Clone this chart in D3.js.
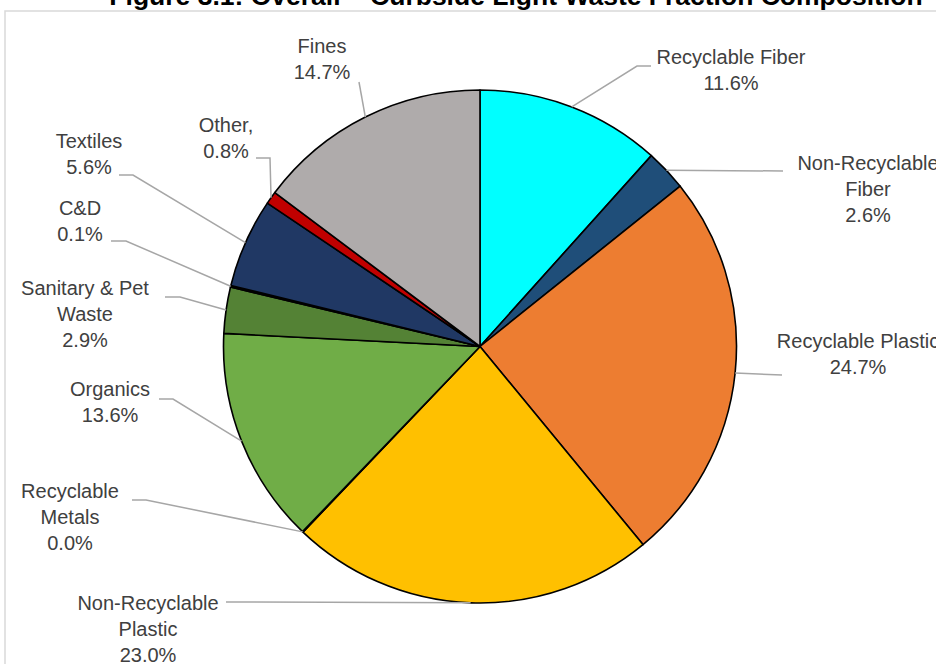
<!DOCTYPE html>
<html>
<head>
<meta charset="utf-8">
<script src="https://cdn.jsdelivr.net/npm/d3@7"></script>
<style>
  html, body { margin: 0; padding: 0; background: #fff; overflow: hidden; }
  svg { display: block; }
</style>
</head>
<body>
<svg id="chart" width="936" height="664"></svg>
<script>
// Composition of curbside light waste, percent by fraction (clockwise from 12 o'clock)
const categories = [
  "Recyclable Fiber", "Non-Recyclable Fiber", "Recyclable Plastic", "Non-Recyclable Plastic",
  "Recyclable Metals", "Organics", "Sanitary & Pet Waste", "C&D", "Textiles", "Other", "Fines"
];
const shares = [11.6, 2.6, 24.7, 23.0, 0.04, 13.6, 2.9, 0.1, 5.6, 0.8, 14.7];
const colors = [
  "#00FFFF", "#1F4E79", "#ED7D31", "#FFC000", "#A5A5A5", "#70AD47",
  "#548235", "#0D0D0D", "#203864", "#C00000", "#AFABAB"
];
// Text lines of each data label (the last line is the formatted share)
const labelNames = [
  ["Recyclable Fiber"], ["Non-Recyclable", "Fiber"], ["Recyclable Plastic"], ["Non-Recyclable", "Plastic"],
  ["Recyclable", "Metals"], ["Organics"], ["Sanitary & Pet", "Waste"], ["C&D"], ["Textiles"], ["Other,"], ["Fines"]
];
const title = "Figure 3.1: Overall \u2013 Curbside Light Waste Fraction Composition";

// Label placement: text centre x, first line centre y, leader start and optional elbow
const labelLayout = [
  { x: 731, y: 57,  lead: [[651, 66], [637, 66]] },
  { x: 868, y: 163, lead: [[783, 171]] },
  { x: 858, y: 341, lead: [[782, 375]] },
  { x: 148, y: 603, lead: [[226, 602]] },
  { x: 70,  y: 491, lead: [[132, 500], [146, 500]] },
  { x: 110, y: 389, lead: [[159, 399], [173, 399]] },
  { x: 85,  y: 288, lead: [[165, 297], [180, 297]] },
  { x: 80,  y: 208, lead: [[111, 241], [126, 241]] },
  { x: 89,  y: 141, lead: [[119, 175], [133, 175]] },
  { x: 226, y: 125, lead: [[256, 158], [270, 158]] },
  { x: 322, y: 46,  lead: [[359, 82]] }
];

const svg = d3.select("#chart");
const cx = 480, cy = 346.5, radius = 256.5;
const lineGap = 26;

// chart area frame
svg.append("rect")
  .attr("x", 5).attr("y", 11)
  .attr("width", 1000).attr("height", 1000)
  .attr("fill", "#fff")
  .attr("stroke", "#D9D9D9").attr("stroke-width", 1.5);

// title (sits above the chart area)
svg.append("text")
  .attr("x", 516).attr("y", 5)
  .attr("text-anchor", "middle")
  .attr("font-family", "Liberation Sans, Arial, sans-serif")
  .attr("font-weight", "bold")
  .attr("font-size", 26.5)
  .attr("fill", "#000")
  .text(title);

const data = categories.map((c, i) => ({ name: c, value: shares[i], color: colors[i], lines: labelNames[i], layout: labelLayout[i] }));

const pie = d3.pie().sort(null).value(d => d.value);
const arcs = pie(data);
const arc = d3.arc().innerRadius(0).outerRadius(radius);

const g = svg.append("g").attr("transform", `translate(${cx},${cy})`);

g.selectAll("path.slice")
  .data(arcs)
  .join("path")
  .attr("class", "slice")
  .attr("d", arc)
  .attr("fill", d => d.data.color)
  .attr("stroke", "#000")
  .attr("stroke-width", 1.6)
  .attr("stroke-linejoin", "round");

// leader lines end on the arc at each slice's mid angle
const line = d3.line();
svg.selectAll("path.leader")
  .data(arcs)
  .join("path")
  .attr("class", "leader")
  .attr("d", d => {
    const mid = (d.startAngle + d.endAngle) / 2;
    const end = [cx + radius * Math.sin(mid), cy - radius * Math.cos(mid)];
    return line([...d.data.layout.lead, end]);
  })
  .attr("fill", "none")
  .attr("stroke", "#A6A6A6")
  .attr("stroke-width", 1.5);

// data labels
const fmt = v => v.toFixed(1) + "%";
const labels = svg.selectAll("text.label")
  .data(arcs)
  .join("text")
  .attr("class", "label")
  .attr("text-anchor", "middle")
  .attr("font-family", "Liberation Sans, Arial, sans-serif")
  .attr("font-size", 20)
  .attr("fill", "#404040");

labels.each(function(d) {
  const t = d3.select(this);
  const lines = [...d.data.lines, fmt(d.data.value)];
  lines.forEach((s, k) => {
    t.append("tspan")
      .attr("x", d.data.layout.x)
      .attr("y", d.data.layout.y + k * lineGap)
      .attr("dy", "0.35em")
      .text(s);
  });
});
</script>
</body>
</html>
